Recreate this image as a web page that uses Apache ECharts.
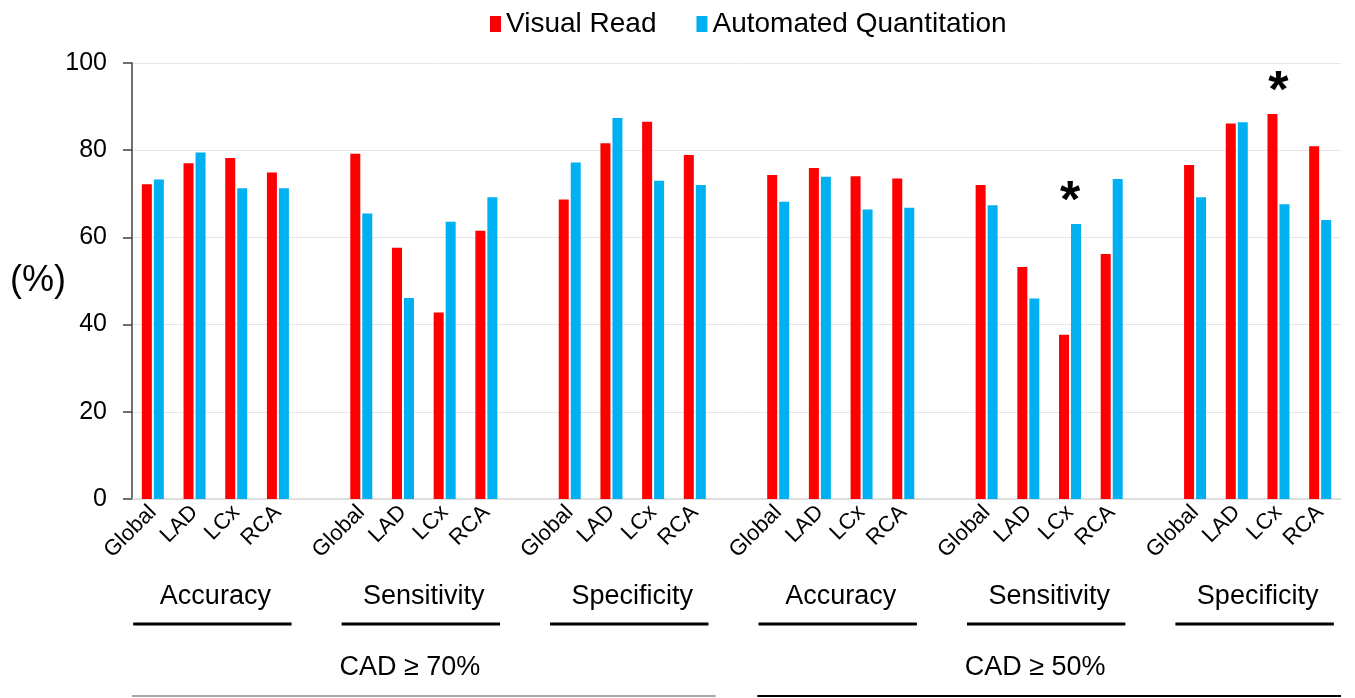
<!DOCTYPE html>
<html>
<head>
<meta charset="utf-8">
<script src="https://cdn.jsdelivr.net/npm/echarts@6/dist/echarts.min.js"></script>
<style>
html,body{margin:0;padding:0;background:#fff;}
#chart{width:1355px;height:698px;}
</style>
</head>
<body>
<div id="chart"></div>
<script>
const subCategories = ['Global', 'LAD', 'LCx', 'RCA'];
const metrics = ['Accuracy', 'Sensitivity', 'Specificity', 'Accuracy', 'Sensitivity', 'Specificity'];
const thresholds = ['CAD ≥ 70%', 'CAD ≥ 50%'];
const seriesNames = ['Visual Read', 'Automated Quantitation'];
const visualRead = [72.2, 77.0, 78.2, 74.9, 79.2, 57.6, 42.8, 61.5, 68.7, 81.6, 86.5, 78.9,
                    74.3, 75.9, 74.0, 73.5, 72.0, 53.2, 37.7, 56.2, 76.6, 86.1, 88.3, 80.9];
const automated = [73.3, 79.5, 71.3, 71.3, 65.5, 46.1, 63.6, 69.2, 77.2, 87.4, 73.0, 72.0,
                   68.2, 73.9, 66.4, 66.8, 67.4, 46.0, 63.1, 73.4, 69.2, 86.4, 67.6, 64.0];
const yTicks = [0, 20, 40, 60, 80, 100];
// significance marks: [seriesIndex, barIndex]
const asterisks = [[1, 18], [0, 22]];

const FONT = '"Liberation Sans", Arial, sans-serif';
const colors = ['#FF0000', '#00B0F0'];

// build the category axis: 4 bars per group, one empty slot between groups
const cats = [];
const slotOf = [];
metrics.forEach((m, g) => {
  subCategories.forEach(s => { slotOf.push(cats.length); cats.push(s); });
  if (g < metrics.length - 1) cats.push('');
});

function buildData(values, sIdx) {
  const arr = cats.map(() => '-');
  values.forEach((v, i) => {
    const item = { value: v };
    const star = asterisks.find(a => a[0] === sIdx && a[1] === i);
    if (star) {
      item.label = {
        show: true, position: 'top', formatter: '*', fontSize: 52, fontWeight: 'bold',
        color: '#000', fontFamily: FONT, distance: 0, offset: [sIdx === 1 ? -6 : 6, 5]
      };
    }
    arr[slotOf[i]] = item;
  });
  return arr;
}

const chart = echarts.init(document.getElementById('chart'));
chart.setOption({
  animation: false,
  backgroundColor: '#fff',
  legend: {
    left: 485, top: 5, itemWidth: 11, itemHeight: 16, itemGap: 40, icon: 'rect',
    textStyle: { fontSize: 28, fontFamily: FONT, color: '#000' },
    data: seriesNames
  },
  grid: { left: 132, right: 14, top: 63, bottom: 199 },
  xAxis: {
    type: 'category', data: cats,
    axisLine: { lineStyle: { color: '#d9d9d9', width: 1.5 } },
    axisTick: { show: false },
    axisLabel: { rotate: 45, fontSize: 22, color: '#000', fontFamily: FONT, margin: 10, interval: 0 }
  },
  yAxis: {
    type: 'value', min: yTicks[0], max: yTicks[yTicks.length - 1], interval: 20,
    axisLine: { show: true, lineStyle: { color: '#404040', width: 1.5 } },
    axisTick: { show: true, length: 9, lineStyle: { color: '#404040', width: 1.5 } },
    axisLabel: { fontSize: 25, color: '#000', fontFamily: FONT, margin: 25 },
    splitLine: { lineStyle: { color: '#e6e6e6', width: 1 } }
  },
  series: [
    { name: seriesNames[0], type: 'bar', barWidth: 10, barGap: '20%', itemStyle: { color: colors[0] },
      data: buildData(visualRead, 0) },
    { name: seriesNames[1], type: 'bar', barWidth: 10, barGap: '20%', itemStyle: { color: colors[1] },
      data: buildData(automated, 1) }
  ]
});

// annotation layer below the axis: metric labels, underlines, thresholds
const px = i => chart.convertToPixel({ xAxisIndex: 0 }, i);
const slotW = px(1) - px(0);
const elements = [];
metrics.forEach((m, g) => {
  const first = px(g * 5), last = px(g * 5 + 3);
  const cx = (first + last) / 2;
  elements.push({
    type: 'text', x: cx, y: 597,
    style: { text: m, fontSize: 27, fontFamily: FONT, fill: '#000', textAlign: 'center', textVerticalAlign: 'middle' }
  });
  elements.push({
    type: 'line', shape: { x1: cx - 1.9 * slotW - 3, y1: 624, x2: cx + 1.9 * slotW - 3, y2: 624 },
    style: { stroke: '#000', lineWidth: 3 }
  });
});
thresholds.forEach((t, k) => {
  const first = px(k * 15), last = px(k * 15 + 13);
  const cx = (first + last) / 2;
  elements.push({
    type: 'text', x: cx - 14, y: 668,
    style: { text: t, fontSize: 27, fontFamily: FONT, fill: '#000', textAlign: 'center', textVerticalAlign: 'middle' }
  });
  elements.push({
    type: 'line', shape: { x1: first - 0.5 * slotW, y1: 696, x2: last + 0.5 * slotW, y2: 696 },
    style: { stroke: k === 0 ? '#a6a6a6' : '#000', lineWidth: 2 }
  });
});
elements.push({
  type: 'text', x: 10, y: 281,
  style: { text: '(%)', fontSize: 36, fontFamily: FONT, fill: '#000', textAlign: 'left', textVerticalAlign: 'middle' }
});
chart.setOption({ graphic: { elements } });
</script>
</body>
</html>
